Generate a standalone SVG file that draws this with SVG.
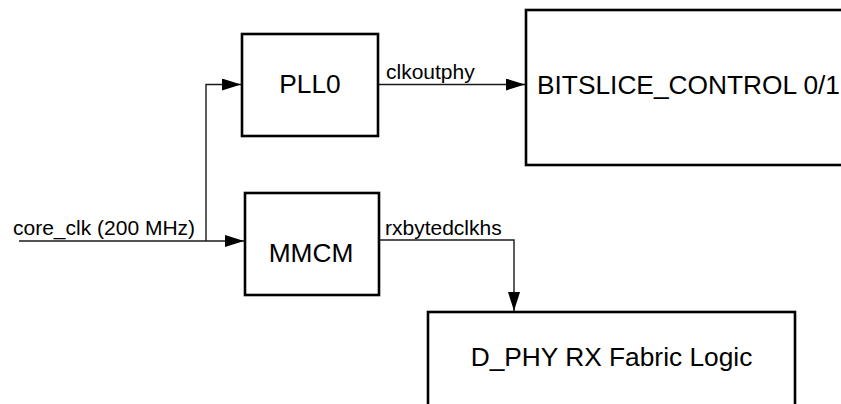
<svg xmlns="http://www.w3.org/2000/svg" width="841" height="404" viewBox="0 0 841 404">
<style>
.box{fill:#fff;stroke:#000;stroke-width:2.6}
.big{font-family:"Liberation Sans",Arial,sans-serif;font-size:26.3px;fill:#000}
.lbl{font-family:"Liberation Sans",Arial,sans-serif;font-size:21px;fill:#000}
.wire{fill:none;stroke:#1a1a1a;stroke-width:1.4}
</style>
<defs>
<marker id="arr" markerUnits="userSpaceOnUse" markerWidth="20" markerHeight="13" refX="19" refY="6" orient="auto">
<path d="M0,0 L19,6 L0,12 z" fill="#000"/>
</marker>
</defs>
<rect width="841" height="404" fill="#fff"/>
<g id="connectors">
<path class="wire" d="M19,241 H244" marker-end="url(#arr)"/>
<path class="wire" d="M206,241 V84.5 H241" marker-end="url(#arr)"/>
<path class="wire" d="M379,84.5 H525" marker-end="url(#arr)"/>
<path class="wire" d="M380,240 H514 V311" marker-end="url(#arr)"/>
<text class="lbl" x="13" y="235">core_clk (200 MHz)</text>
<text class="lbl" x="386" y="79">clkoutphy</text>
<text class="lbl" x="385" y="235">rxbytedclkhs</text>
</g>
<g id="pll0">
<rect class="box" x="242" y="34" width="136" height="102"/>
<text class="big" x="310" y="93" text-anchor="middle">PLL0</text>
</g>
<g id="mmcm">
<rect class="box" x="245" y="193" width="134" height="102"/>
<text class="big" x="311" y="262" text-anchor="middle">MMCM</text>
</g>
<g id="bitslice">
<rect class="box" x="526" y="10" width="330" height="155"/>
<text class="big" x="537" y="94">BITSLICE_CONTROL 0/1</text>
</g>
<g id="dphy">
<rect class="box" x="428" y="312" width="367" height="110"/>
<text class="big" x="611.5" y="366" text-anchor="middle">D_PHY RX Fabric Logic</text>
</g>
</svg>
